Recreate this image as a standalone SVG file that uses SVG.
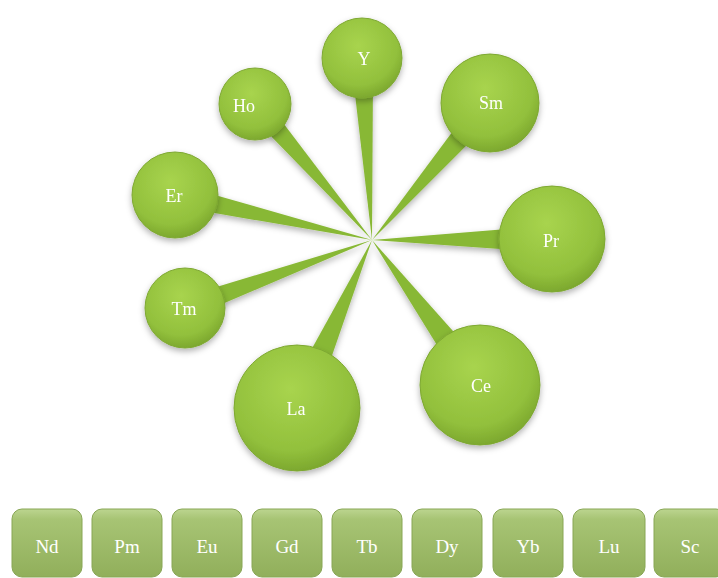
<svg xmlns="http://www.w3.org/2000/svg" width="718" height="578" viewBox="0 0 718 578">
<defs>
<radialGradient id="cg" cx="0.45" cy="0.35" r="0.7">
<stop offset="0" stop-color="#a8d44e"/>
<stop offset="0.7" stop-color="#92c03c"/>
<stop offset="1" stop-color="#76a12a"/>
</radialGradient>
<linearGradient id="bg" x1="0" y1="0" x2="0" y2="1">
<stop offset="0" stop-color="#bcd590"/>
<stop offset="0.15" stop-color="#a7c474"/>
<stop offset="1" stop-color="#91af5b"/>
</linearGradient>
<filter id="sh" x="-30%" y="-30%" width="160%" height="160%">
<feDropShadow dx="0" dy="3" stdDeviation="3" flood-color="#000" flood-opacity="0.3"/>
</filter>
</defs>
<style>
.c{fill:url(#cg);stroke:#7ea832;stroke-width:1}
.t{fill:#88b836}
.b{fill:url(#bg);stroke:#88a655;stroke-width:1}
.l{font-family:"Liberation Serif","Times New Roman",serif;fill:#ffffff;text-anchor:middle;dominant-baseline:central}
.lc{font-size:18px}
.lb{font-size:19px}
</style>
<g id="connectors" filter="url(#sh)">
<polygon class="t" points="372,240 372.9,92.4 354.9,93.4"/>
<polygon class="t" points="372,240 282.0,121.6 268.4,133.4"/>
<polygon class="t" points="372,240 468.9,142.9 453.7,129.9"/>
<polygon class="t" points="372,240 214.0,194.7 210.0,212.3"/>
<polygon class="t" points="372,240 504,249.3 504,229.3"/>
<polygon class="t" points="372,240 214.8,287.5 221.0,304.5"/>
<polygon class="t" points="372,240 310.3,351.5 330.3,360.5"/>
<polygon class="t" points="372,240 438.9,348.3 456.5,335.1"/>
</g>
<g id="node-Y" filter="url(#sh)"><circle class="c" cx="362" cy="58" r="40"/><text class="l lc" x="364" y="59">Y</text></g>
<g id="node-Ho" filter="url(#sh)"><circle class="c" cx="255" cy="104" r="36"/><text class="l lc" x="244" y="106">Ho</text></g>
<g id="node-Sm" filter="url(#sh)"><circle class="c" cx="490" cy="103" r="49"/><text class="l lc" x="491" y="103">Sm</text></g>
<g id="node-Er" filter="url(#sh)"><circle class="c" cx="175" cy="195" r="43"/><text class="l lc" x="174" y="196">Er</text></g>
<g id="node-Pr" filter="url(#sh)"><circle class="c" cx="552" cy="239" r="53"/><text class="l lc" x="551" y="241">Pr</text></g>
<g id="node-Tm" filter="url(#sh)"><circle class="c" cx="185" cy="308" r="40"/><text class="l lc" x="184" y="309">Tm</text></g>
<g id="node-La" filter="url(#sh)"><circle class="c" cx="297" cy="408" r="63"/><text class="l lc" x="296" y="409">La</text></g>
<g id="node-Ce" filter="url(#sh)"><circle class="c" cx="480" cy="385" r="60"/><text class="l lc" x="481" y="386">Ce</text></g>
<g id="box-Nd"><rect class="b" x="12" y="509" width="70" height="68" rx="10"/><text class="l lb" x="47" y="546">Nd</text></g>
<g id="box-Pm"><rect class="b" x="92" y="509" width="70" height="68" rx="10"/><text class="l lb" x="127" y="546">Pm</text></g>
<g id="box-Eu"><rect class="b" x="172" y="509" width="70" height="68" rx="10"/><text class="l lb" x="207" y="546">Eu</text></g>
<g id="box-Gd"><rect class="b" x="252" y="509" width="70" height="68" rx="10"/><text class="l lb" x="287" y="546">Gd</text></g>
<g id="box-Tb"><rect class="b" x="332" y="509" width="70" height="68" rx="10"/><text class="l lb" x="367" y="546">Tb</text></g>
<g id="box-Dy"><rect class="b" x="412" y="509" width="70" height="68" rx="10"/><text class="l lb" x="447" y="546">Dy</text></g>
<g id="box-Yb"><rect class="b" x="493" y="509" width="70" height="68" rx="10"/><text class="l lb" x="528" y="546">Yb</text></g>
<g id="box-Lu"><rect class="b" x="573" y="509" width="72" height="68" rx="10"/><text class="l lb" x="609" y="546">Lu</text></g>
<g id="box-Sc"><rect class="b" x="654" y="509" width="72" height="68" rx="10"/><text class="l lb" x="690" y="546">Sc</text></g>
</svg>
